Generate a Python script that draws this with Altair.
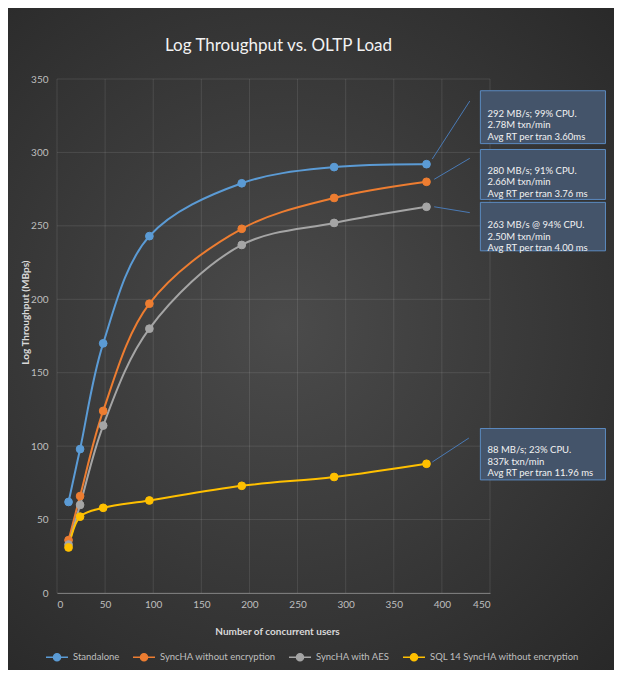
import altair as alt
import pandas as pd

# ---------------- data ----------------
users = [12, 24, 48, 96, 192, 288, 384]
standalone = [62, 98, 170, 243, 279, 290, 292]
synch_no_enc = [36, 66, 124, 197, 248, 269, 280]
synch_aes = [33, 60, 114, 180, 237, 252, 263]
sql14 = [31, 52, 58, 63, 73, 79, 88]

series_names = ["Standalone", "SyncHA without encryption", "SyncHA with AES",
                "SQL 14 SyncHA without encryption"]
series_colors = ["#5b9bd5", "#ed7d31", "#a5a5a5", "#ffc000"]
series_values = [standalone, synch_no_enc, synch_aes, sql14]

x_ticks = [0, 50, 100, 150, 200, 250, 300, 350, 400, 450]
y_ticks = [0, 50, 100, 150, 200, 250, 300, 350]

chart_title = "Log Throughput vs. OLTP Load"

note_texts = [
    "292 MB/s; 99% CPU.\n2.78M txn/min\nAvg RT per tran 3.60ms",
    "280 MB/s; 91% CPU.\n2.66M txn/min\nAvg RT per tran 3.76 ms",
    "263 MB/s @ 94% CPU.\n2.50M txn/min\nAvg RT per tran 4.00 ms",
    "88 MB/s; 23% CPU.\n837k txn/min\nAvg RT per tran 11.96 ms",
]
box_x1 = [440, 440, 440, 440]
box_x2 = [570, 570, 570, 570]
box_y1 = [342, 302, 266, 112]
box_y2 = [306, 268, 233, 77]
text_x = [447.5, 447.5, 447.5, 447.5]
text_y = [326.5, 287.6, 250.4, 97.2]
lead_x1 = [390, 392, 392, 390]
lead_y1 = [295.5, 281.7, 263.0, 89.2]
lead_x2 = [429, 429, 429, 428]
lead_y2 = [335, 296, 259, 105.5]

# ---------------- tables ----------------
rows = []
for s, vals in zip(series_names, series_values):
    for u, v in zip(users, vals):
        rows.append({"users": u, "value": v, "series": s})
df = pd.DataFrame(rows)

notes = pd.DataFrame({"bx1": box_x1, "bx2": box_x2, "by1": box_y1, "by2": box_y2,
                      "tx": text_x, "ty": text_y, "txt": note_texts,
                      "lx1": lead_x1, "ly1": lead_y1, "lx2": lead_x2, "ly2": lead_y2})

W, H = 433, 514
PL, PT, PR, PB = 49, 71, 124, 77
FONT = "Lato"

xs = alt.Scale(domain=[0, 450], nice=False)
ys = alt.Scale(domain=[0, 350], nice=False)

x_axis = alt.Axis(values=x_ticks, grid=False, ticks=False, domain=True, domainColor="#7a7a7a",
                  labelColor="#bfbfbf", labelFont=FONT, labelFontSize=10, labelPadding=6,
                  title="Number of concurrent users", titleFont=FONT, titleFontSize=10,
                  titleFontWeight="bold", titleColor="#d9d9d9", titleX=220, titleY=38,
                  titleBaseline="middle", titleAlign="center", zindex=1)
y_axis = alt.Axis(values=y_ticks, grid=False, ticks=False, domain=False,
                  labelColor="#bfbfbf", labelFont=FONT, labelFontSize=10, labelPadding=9,
                  title="Log Throughput (MBps)", titleFont=FONT, titleFontSize=10,
                  titleFontWeight="bold", titleColor="#d9d9d9", titleAngle=270,
                  titleX=-32, titleY=233, titleBaseline="middle", titleAlign="center", zindex=1)


def X(f):
    return alt.X(f, type="quantitative", scale=xs, axis=x_axis)


def Y(f):
    return alt.Y(f, type="quantitative", scale=ys, axis=y_axis)


bg = alt.Chart(alt.Data(values=[{"a": 1}])).mark_rect(
    fill={"gradient": "radial", "x1": 0.46, "y1": 0.48, "r1": 0,
          "x2": 0.46, "y2": 0.48, "r2": 0.72,
          "stops": [{"offset": 0, "color": "#4b4b4b"}, {"offset": 1, "color": "#282828"}]},
    strokeWidth=0
).encode(x=alt.value(-PL), x2=alt.value(W + PR), y=alt.value(-PT), y2=alt.value(H + PB))

title_mark = alt.Chart(alt.Data(values=[{"t": chart_title}])).mark_text(
    font=FONT, fontSize=17, color="#f2f2f2", align="center", baseline="middle"
).encode(x=alt.value(W / 2 + 5), y=alt.value(-33), text="t:N")

vgrid = alt.Chart(pd.DataFrame({"gx": x_ticks})).mark_rule(
    color="#ffffff", opacity=0.1, strokeWidth=1).encode(x=X("gx"))
hgrid = alt.Chart(pd.DataFrame({"gy": y_ticks})).mark_rule(
    color="#ffffff", opacity=0.1, strokeWidth=1).encode(y=Y("gy"))

cscale = alt.Scale(domain=series_names, range=series_colors)
legend = alt.Legend(title=None, orient="none", legendX=-12, legendY=566, direction="horizontal",
                    symbolType="M-1,0L1,0M-0.32,0A0.32,0.32,0,1,1,0.32,0A0.32,0.32,0,1,1,-0.32,0Z",
                    symbolSize=484, symbolStrokeWidth=1.5, symbolOpacity=1,
                    labelFont=FONT, labelFontSize=9.5, labelColor="#bfbfbf", labelOffset=4,
                    columnPadding=10, padding=0, zindex=1)

lines = alt.Chart(df).mark_line(interpolate="catmull-rom", strokeWidth=2).encode(
    x=X("users"), y=Y("value"),
    color=alt.Color("series:N", scale=cscale, legend=legend),
    detail="series:N")

points = alt.Chart(df).mark_point(filled=True, size=60, opacity=1, strokeWidth=1).encode(
    x=X("users"), y=Y("value"),
    color=alt.Color("series:N", scale=cscale, legend=legend),
    stroke=alt.Stroke("series:N", scale=cscale, legend=legend))

leaders = alt.Chart(notes).mark_rule(color="#4a7ab5", strokeWidth=1).encode(
    x=X("lx1"), x2="lx2", y=Y("ly1"), y2="ly2")

boxes = alt.Chart(notes).mark_rect(fill="#44546a", stroke="#5b8ac0", strokeWidth=1).encode(
    x=X("bx1"), x2="bx2", y=Y("by1"), y2="by2")

texts = alt.Chart(notes).mark_text(align="left", baseline="middle", lineBreak="\n",
                                   lineHeight=11.5, font=FONT, fontSize=9.5,
                                   color="#f2f2f2").encode(
    x=X("tx"), y=Y("ty"), text="txt:N")

chart = alt.layer(bg, title_mark, vgrid, hgrid, lines, points, leaders, boxes, texts).properties(
    width=W, height=H,
    padding={"left": PL, "top": PT, "right": PR, "bottom": PB},
    autosize=alt.AutoSizeParams(type="none"),
    background="#2b2b2b",
).configure_view(stroke=None)

chart.save("out.html", embed_options={"renderer": "svg", "actions": False})
